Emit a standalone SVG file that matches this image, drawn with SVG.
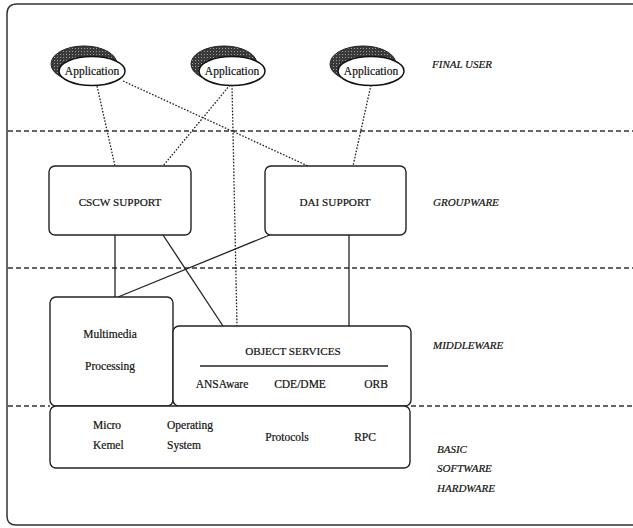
<svg xmlns="http://www.w3.org/2000/svg" width="633" height="528" viewBox="0 0 633 528" font-family="'Liberation Serif', 'DejaVu Serif', serif">
<style>
text{font-family:'Liberation Serif','DejaVu Serif',serif;fill:#111;stroke:#111;stroke-width:0.2}
.n{font-size:11.5px}
.c{font-size:11.2px}
.lab{font-size:11px;font-style:italic}
.box{fill:#fff;stroke:#222;stroke-width:1.4}
.sep{stroke:#333;stroke-width:1.4;stroke-dasharray:5 3;fill:none}
.dot{stroke:#222;stroke-width:1.3;stroke-dasharray:1.6 1.6;fill:none}
.sol{stroke:#222;stroke-width:1.3;fill:none}
.sh{fill:url(#hatch);stroke:#222;stroke-width:1}
.el{fill:#fff;stroke:#111;stroke-width:1.5}
</style>
<defs>
<pattern id="hatch" width="3" height="3" patternUnits="userSpaceOnUse">
<rect width="3" height="3" fill="#3a3a3a"/>
<rect width="1" height="1" fill="#999"/>
</pattern>
</defs>
<rect width="633" height="528" fill="#fff"/>
<path d="M633,4 H17 Q7,4 7,14 V516 Q7,525 16,525 H633" fill="none" stroke="#333" stroke-width="1.5"/>
<g id="separators">
<line class="sep" x1="8" y1="131" x2="633" y2="131"/>
<line class="sep" x1="8" y1="268" x2="633" y2="268"/>
<line class="sep" x1="8" y1="406" x2="50" y2="406"/>
<line class="sep" x1="411" y1="406" x2="633" y2="406"/>
</g>
<g id="connectors">
<line class="dot" x1="97" y1="86" x2="115" y2="166"/>
<line class="dot" x1="123" y1="81" x2="308" y2="166"/>
<line class="dot" x1="230" y1="85" x2="163" y2="166"/>
<line class="dot" x1="232" y1="85" x2="237" y2="326"/>
<line class="dot" x1="371" y1="85" x2="353" y2="166"/>
<line class="sol" x1="115" y1="235" x2="115" y2="297"/>
<line class="sol" x1="163" y1="235" x2="223" y2="326"/>
<line class="sol" x1="272" y1="234" x2="118" y2="297"/>
<line class="sol" x1="349" y1="235" x2="349" y2="326"/>
</g>
<g id="app1">
<ellipse class="sh" cx="84" cy="64" rx="33" ry="18"/>
<ellipse class="el" cx="92" cy="71" rx="33" ry="14.5"/>
<text class="n" x="92" y="75" text-anchor="middle">Application</text>
</g>
<g id="app2">
<ellipse class="sh" cx="224" cy="64" rx="33" ry="18"/>
<ellipse class="el" cx="232" cy="71" rx="33" ry="14.5"/>
<text class="n" x="232" y="75" text-anchor="middle">Application</text>
</g>
<g id="app3">
<ellipse class="sh" cx="363" cy="64" rx="33" ry="18"/>
<ellipse class="el" cx="371" cy="71" rx="33" ry="14.5"/>
<text class="n" x="371" y="75" text-anchor="middle">Application</text>
</g>
<g id="cscw">
<rect class="box" x="49" y="166" width="142" height="69" rx="6"/>
<text class="c" x="120" y="206" text-anchor="middle">CSCW SUPPORT</text>
</g>
<g id="dai">
<rect class="box" x="265" y="166" width="141" height="69" rx="6"/>
<text class="c" x="335" y="206" text-anchor="middle">DAI SUPPORT</text>
</g>
<g id="multimedia">
<rect class="box" x="50" y="297" width="123" height="109" rx="6"/>
<text class="n" x="110" y="338" text-anchor="middle">Multimedia</text>
<text class="n" x="110" y="370" text-anchor="middle">Processing</text>
</g>
<g id="objservices">
<rect class="box" x="173" y="326" width="238" height="80" rx="6"/>
<text class="c" x="293" y="355" text-anchor="middle">OBJECT SERVICES</text>
<line class="sol" x1="200" y1="366" x2="388" y2="366"/>
<text class="n" x="222" y="388" text-anchor="middle">ANSAware</text>
<text class="n" x="300" y="388" text-anchor="middle">CDE/DME</text>
<text class="n" x="376" y="388" text-anchor="middle">ORB</text>
</g>
<g id="basic">
<rect class="box" x="50" y="406" width="360" height="62" rx="6"/>
<text class="n" x="93" y="429">Micro</text>
<text class="n" x="93" y="449">Kemel</text>
<text class="n" x="167" y="429">Operating</text>
<text class="n" x="167" y="449">System</text>
<text class="n" x="287" y="441" text-anchor="middle">Protocols</text>
<text class="n" x="365" y="441" text-anchor="middle">RPC</text>
</g>
<g id="labels">
<text class="lab" x="432" y="68">FINAL USER</text>
<text class="lab" x="433" y="206">GROUPWARE</text>
<text class="lab" x="433" y="349">MIDDLEWARE</text>
<text class="lab" x="437" y="453">BASIC</text>
<text class="lab" x="437" y="472">SOFTWARE</text>
<text class="lab" x="437" y="492">HARDWARE</text>
</g>
</svg>
